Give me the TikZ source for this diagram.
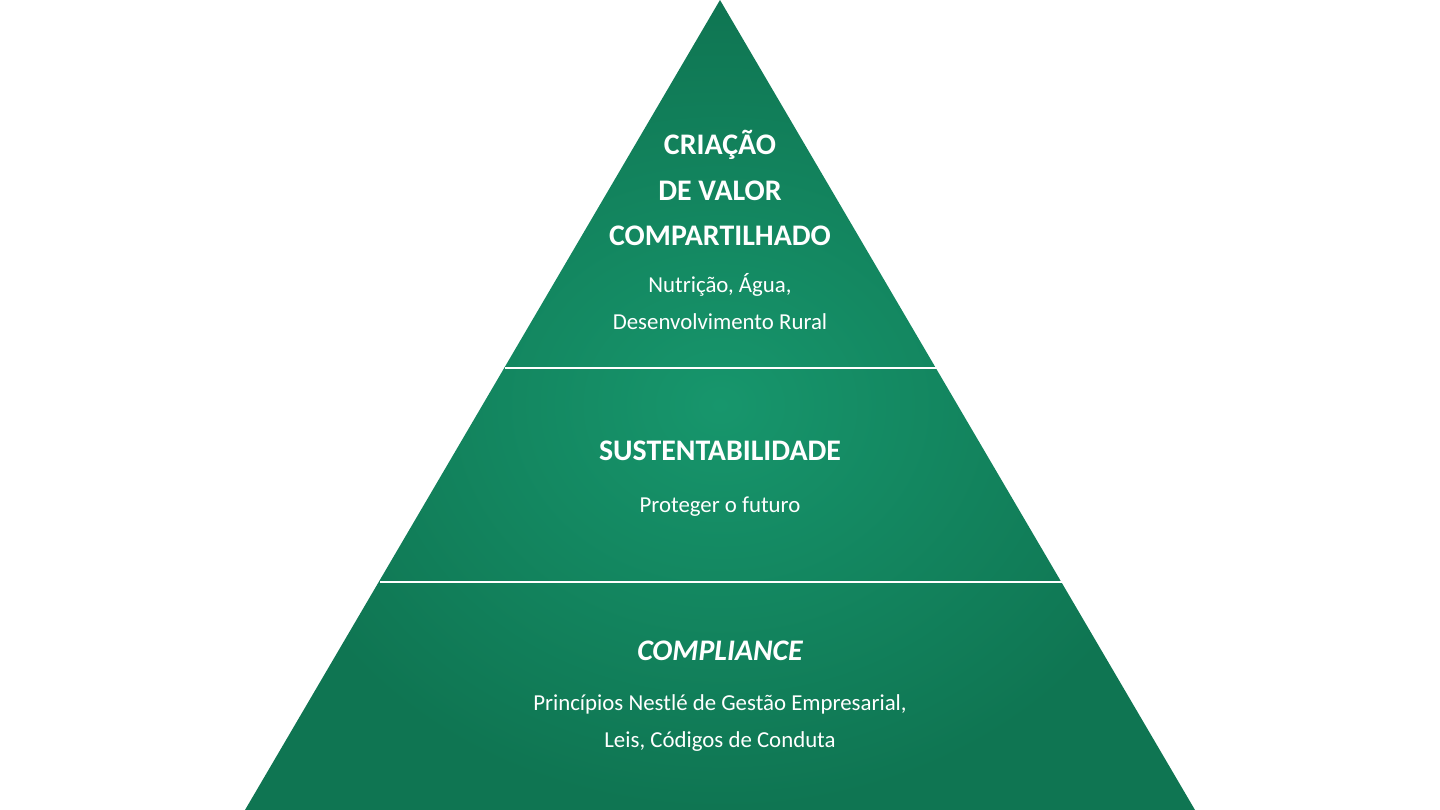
\documentclass[tikz,border=0pt]{standalone}
\usepackage{fontspec}
\setmainfont{Carlito}
\usetikzlibrary{positioning}
\definecolor{pyrlight}{HTML}{17966C}
\definecolor{pyrdark}{HTML}{0F7552}
\tikzset{
  % Specifications for style of nodes:
  title/.style = {
    text=white,
    font=\fontsize{17}{26}\selectfont\bfseries,
    align=center
  },
  detail/.style = {
    text=white,
    font=\fontsize{13}{21}\selectfont,
    align=center
  },
  divider/.style = {
    draw=white,
    line width=1.2pt
  },
}
\begin{document}
\begin{tikzpicture}[x=0.02cm, y=-0.02cm]
    \useasboundingbox (0,0) rectangle (1440,810);
    % Specification of pyramid body
    \coordinate (apex)  at (720,0);
    \coordinate (baseL) at (245,810);
    \coordinate (baseR) at (1195,810);
    \begin{scope}
      \clip (apex) -- (baseL) -- (baseR) -- cycle;
      \shade[inner color=pyrlight, outer color=pyrdark] (245,0) rectangle (1195,810);
    \end{scope}
    \coordinate (sepAL) at (505,368);
    \coordinate (sepAR) at (938,368);
    \coordinate (sepBL) at (380,582);
    \coordinate (sepBR) at (1062,582);
    \draw[divider] (sepAL) -- (sepAR);
    \draw[divider] (sepBL) -- (sepBR);
    % Specification of texts
    \node[title]  (top)     at (720,188) {CRIAÇÃO\\DE VALOR\\COMPARTILHADO};
    \node[detail] (topsub)  at (720,302) {Nutrição, Água,\\Desenvolvimento Rural};
    \node[title]  (mid)     at (720,451) {SUSTENTABILIDADE};
    \node[detail] (midsub)  at (720,507) {Proteger o futuro};
    \node[title]  (base)    at (720,651) {\itshape COMPLIANCE};
    \node[detail] (basesub) at (720,723) {Princípios Nestlé de Gestão Empresarial,\\Leis, Códigos de Conduta};
  \end{tikzpicture}
\end{document}
